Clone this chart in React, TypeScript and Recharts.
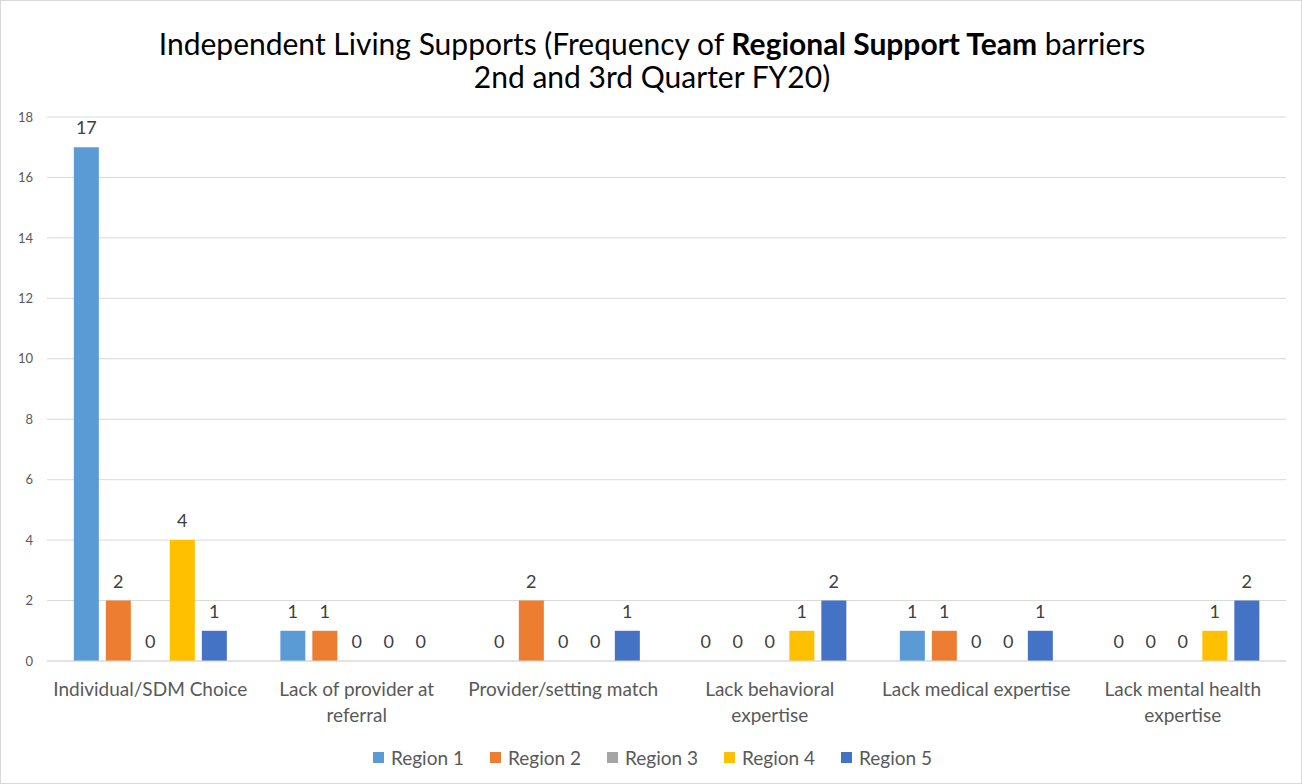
import { Bar, BarChart, CartesianGrid, LabelList, Legend, XAxis, YAxis } from "recharts";

const categories = [
  "Individual/SDM Choice",
  "Lack of provider at referral",
  "Provider/setting match",
  "Lack behavioral expertise",
  "Lack medical expertise",
  "Lack mental health expertise"
];

const region1 = [17, 1, 0, 0, 1, 0];
const region2 = [2, 1, 2, 0, 1, 0];
const region3 = [0, 0, 0, 0, 0, 0];
const region4 = [4, 0, 0, 1, 0, 1];
const region5 = [1, 0, 1, 2, 1, 2];

const yTicks = [0, 2, 4, 6, 8, 10, 12, 14, 16, 18];

const series = [
  { key: "region1", name: "Region 1", values: region1, color: "#5B9BD5" },
  { key: "region2", name: "Region 2", values: region2, color: "#ED7D31" },
  { key: "region3", name: "Region 3", values: region3, color: "#A5A5A5" },
  { key: "region4", name: "Region 4", values: region4, color: "#FFC000" },
  { key: "region5", name: "Region 5", values: region5, color: "#4472C4" }
];

const data = categories.map((name, i) => {
  const row: Record<string, string | number> = { name };
  series.forEach((s) => (row[s.key] = s.values[i]));
  return row;
});

const FONT = "Lato, 'Open Sans', sans-serif";
const MAX_CHARS = 22;

// greedy word wrap by character count
function wrap(label: string) {
  const lines: string[] = [];
  let cur = "";
  label.split(" ").forEach((w) => {
    const next = cur ? cur + " " + w : w;
    if (next.length > MAX_CHARS && cur) {
      lines.push(cur);
      cur = w;
    } else {
      cur = next;
    }
  });
  if (cur) lines.push(cur);
  return lines;
}

function CategoryTick({ x, y, payload }: any) {
  const lines = wrap(String(payload.value));
  return (
    <text x={x} y={y} textAnchor="middle" fill="#595959" fontSize={19} fontFamily={FONT}>
      {lines.map((l, i) => (
        <tspan key={i} x={x} dy={i === 0 ? 14 : 26}>
          {l}
        </tspan>
      ))}
    </text>
  );
}

// draws the value above each bar, zero included
function ValueLabel({ x, y, width, value }: any) {
  return (
    <text
      x={Number(x) + Number(width) / 2}
      y={Number(y) - 13}
      textAnchor="middle"
      fill="#404040"
      fontSize={18}
      fontFamily={FONT}
    >
      {value}
    </text>
  );
}

function LegendContent() {
  return (
    <div
      style={{
        display: "flex",
        justifyContent: "center",
        gap: 26,
        paddingLeft: 12,
        fontFamily: FONT,
        fontSize: 19,
        color: "#595959"
      }}
    >
      {series.map((s) => (
        <div key={s.key} style={{ display: "flex", alignItems: "center" }}>
          <span style={{ width: 11, height: 11, background: s.color, marginRight: 7, display: "inline-block" }} />
          {s.name}
        </div>
      ))}
    </div>
  );
}

export default function App() {
  return (
    <div
      style={{
        position: "absolute",
        left: 0,
        top: 0,
        width: 1302,
        height: 784,
        background: "#fff",
        boxSizing: "border-box",
        border: "1px solid #d9d9d9",
        fontFamily: FONT
      }}
    >
      <div
        style={{
          position: "absolute",
          top: 26,
          left: 0,
          width: 1302,
          textAlign: "center",
          fontSize: 30,
          lineHeight: "33px",
          color: "#000"
        }}
      >
        Independent Living Supports (Frequency of <b>Regional Support Team</b> barriers
        <br />
        2nd and 3rd Quarter FY20)
      </div>
      <div style={{ position: "absolute", left: 0, top: 0 }}>
        <BarChart
          width={1300}
          height={782}
          data={data}
          margin={{ top: 116, right: 15, left: 6, bottom: 14 }}
          barGap={7}
          barCategoryGap="13%"
        >
          <CartesianGrid vertical={false} stroke="#d9d9d9" />
          <XAxis
            dataKey="name"
            interval={0}
            tickLine={false}
            axisLine={{ stroke: "#d9d9d9" }}
            tick={<CategoryTick />}
            tickMargin={15}
            height={85}
          />
          <YAxis
            domain={[0, 18]}
            ticks={yTicks}
            tickLine={false}
            axisLine={false}
            width={40}
            tickSize={0}
            tickMargin={14}
            tick={{ fill: "#595959", fontSize: 13, fontFamily: FONT }}
          />
          <Legend verticalAlign="bottom" content={<LegendContent />} />
          {series.map((s) => (
            <Bar
              key={s.key}
              dataKey={s.key}
              name={s.name}
              fill={s.color}
              minPointSize={0.01}
              isAnimationActive={false}
            >
              <LabelList dataKey={s.key} content={<ValueLabel />} />
            </Bar>
          ))}
        </BarChart>
      </div>
    </div>
  );
}
